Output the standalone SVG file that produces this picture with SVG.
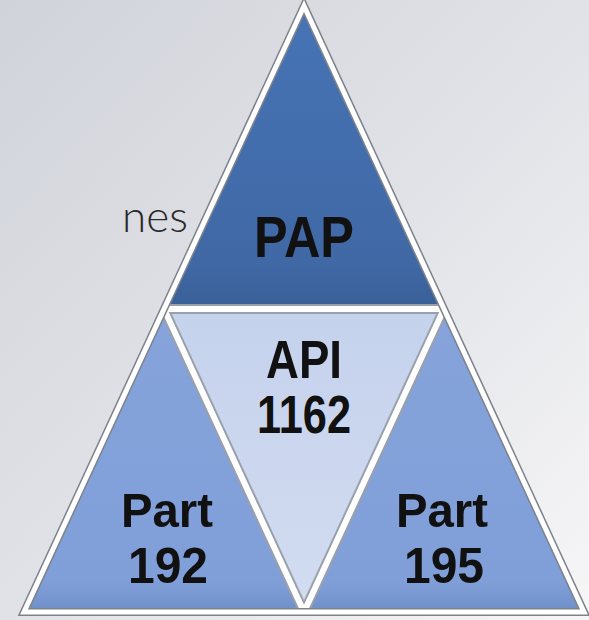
<svg xmlns="http://www.w3.org/2000/svg" width="589" height="620" viewBox="0 0 589 620">
<defs>
<linearGradient id="bg" x1="0" y1="0" x2="1" y2="1">
<stop offset="0" stop-color="#d0d3da"/>
<stop offset="0.5" stop-color="#e1e2e7"/>
<stop offset="1" stop-color="#f6f6f7"/>
</linearGradient>
<linearGradient id="gPap" x1="0" y1="0" x2="0" y2="1">
<stop offset="0" stop-color="#4674b6"/>
<stop offset="0.85" stop-color="#4068a5"/>
<stop offset="1" stop-color="#395f96"/>
</linearGradient>
<linearGradient id="gApi" x1="0" y1="0" x2="0" y2="1">
<stop offset="0" stop-color="#c5d2ec"/>
<stop offset="1" stop-color="#d2dcf1"/>
</linearGradient>
<linearGradient id="gPart" x1="0" y1="0" x2="0" y2="1">
<stop offset="0" stop-color="#86a3db"/>
<stop offset="0.9" stop-color="#809fd8"/>
<stop offset="1" stop-color="#6f8fc9"/>
</linearGradient>
<clipPath id="outer">
<polygon points="304,6 584,612 24,612"/>
</clipPath>
<style>
.lbl{font-family:"Liberation Sans",Arial,sans-serif;font-weight:bold;fill:#111;text-anchor:middle}
.side{font-family:Lato,"Open Sans",sans-serif;font-weight:300;fill:#2a2a2a}
.edgeG{fill:none;stroke:#9aa0aa;stroke-width:10;stroke-linejoin:miter}
.edgeW{fill:none;stroke:#ffffff;stroke-width:6;stroke-linejoin:miter}
.outG{fill:none;stroke:#7d828b;stroke-width:8;stroke-linejoin:miter}
.outW{fill:none;stroke:#ffffff;stroke-width:5;stroke-linejoin:miter}
</style>
</defs>
<rect width="589" height="620" fill="url(#bg)"/>
<text class="side" x="122" y="232" font-size="44">nes</text>
<g id="pap">
<polygon points="304,6 164,309 444,309" fill="url(#gPap)"/>
<text class="lbl" x="304" y="257" font-size="58" textLength="100" lengthAdjust="spacingAndGlyphs">PAP</text>
</g>
<g id="api">
<polygon points="164,309 444,309 304,612" fill="url(#gApi)"/>
<text class="lbl" x="304" y="378" font-size="53" textLength="76" lengthAdjust="spacingAndGlyphs">API</text>
<text class="lbl" x="304" y="433" font-size="53" textLength="94" lengthAdjust="spacingAndGlyphs">1162</text>
</g>
<g id="part192">
<polygon points="164,309 304,612 24,612" fill="url(#gPart)"/>
<text class="lbl" x="167" y="527" font-size="49" textLength="92" lengthAdjust="spacingAndGlyphs">Part</text>
<text class="lbl" x="168" y="583" font-size="50" textLength="80" lengthAdjust="spacingAndGlyphs">192</text>
</g>
<g id="part195">
<polygon points="444,309 584,612 304,612" fill="url(#gPart)"/>
<text class="lbl" x="442" y="527" font-size="49" textLength="92" lengthAdjust="spacingAndGlyphs">Part</text>
<text class="lbl" x="444" y="583" font-size="50" textLength="80" lengthAdjust="spacingAndGlyphs">195</text>
</g>
<g id="connectors">
<g clip-path="url(#outer)">
<polygon class="edgeG" points="164,309 444,309 304,612"/>
<polygon class="edgeW" points="164,309 444,309 304,612"/>
</g>
<polygon class="outG" points="304,6 584,612 24,612"/>
<polygon class="outW" points="304,6 584,612 24,612"/>
</g>
</svg>
